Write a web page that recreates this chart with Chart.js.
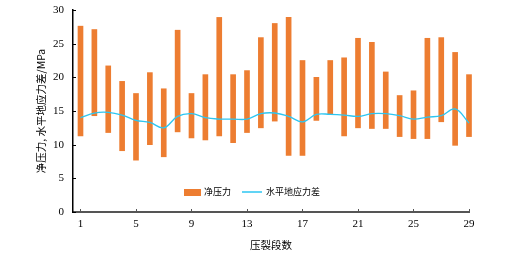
<!DOCTYPE html>
<html>
<head>
<meta charset="utf-8">
<script src="https://cdn.jsdelivr.net/npm/chart.js@4/dist/chart.umd.min.js"></script>
<style>
  html, body { margin: 0; padding: 0; background: #fff; }
  #wrap { width: 517px; height: 264px; }
</style>
</head>
<body>
<div id="wrap"><canvas id="fracChart"></canvas></div>
<script>
// stage numbers
const stages = [1, 2, 3, 4, 5, 6, 7, 8, 9, 10, 11, 12, 13, 14, 15, 16, 17, 18, 19, 20, 21, 22, 23, 24, 25, 26, 27, 28, 29];
// net pressure range (low / high), MPa
const netLow  = [11.3, 14.3, 11.8, 9.1, 7.7, 10.0, 8.2, 11.9, 11.0, 10.7, 11.3, 10.3, 11.8, 12.5, 13.5, 8.4, 8.4, 13.6, 14.5, 11.3, 12.5, 12.4, 12.4, 11.2, 10.9, 10.9, 13.4, 9.9, 11.2];
const netHigh = [27.6, 27.1, 21.7, 19.4, 17.6, 20.7, 18.3, 27.0, 17.6, 20.4, 28.9, 20.4, 21.0, 25.9, 28.0, 28.9, 22.5, 20.0, 22.5, 22.9, 25.8, 25.2, 20.8, 17.3, 18.0, 25.8, 25.9, 23.7, 20.4];
// horizontal stress difference, MPa
const stressDiff = [14.0, 14.7, 14.8, 14.4, 13.6, 13.3, 12.5, 14.2, 14.6, 14.0, 13.8, 13.8, 13.8, 14.6, 14.7, 14.2, 13.4, 14.5, 14.5, 14.4, 14.2, 14.6, 14.6, 14.3, 13.8, 14.1, 14.3, 15.3, 13.2];
const xTickValues = [1, 5, 9, 13, 17, 21, 25, 29];
const yTickValues = [0, 5, 10, 15, 20, 25, 30];

const orange = "#ed7d31";
const cyan = "#2cc6f2";
const serif = "'Liberation Serif', 'DejaVu Serif', serif";
const cjk = "'Noto Sans CJK SC', sans-serif";

// legend drawn inside the plot, plus small inward tick marks
const innerBits = {
  id: "innerBits",
  afterDraw(chart) {
    const c = chart.ctx;
    const area = chart.chartArea;
    const xs = chart.scales.x, ys = chart.scales.y;
    c.save();
    c.strokeStyle = "#555";
    c.lineWidth = 1;
    xTickValues.forEach(v => {
      const px = Math.round(xs.getPixelForValue(v)) + 0.5;
      c.beginPath(); c.moveTo(px, area.bottom); c.lineTo(px, area.bottom - 3); c.stroke();
    });
    c.strokeStyle = "#000";
    yTickValues.forEach(v => {
      const py = Math.round(ys.getPixelForValue(v)) + 0.5;
      c.beginPath(); c.moveTo(area.left, py); c.lineTo(area.left + 3, py); c.stroke();
    });

    // legend
    const ly = area.bottom - 20;
    let lx = area.left + 111;
    c.fillStyle = orange;
    c.fillRect(lx, ly - 3, 17, 7);
    c.fillStyle = "#000";
    c.font = "9px " + cjk;
    c.textBaseline = "middle";
    c.fillText(chart.data.datasets[1].label, lx + 20, ly);
    lx += 58;
    c.strokeStyle = cyan;
    c.lineWidth = 1.5;
    c.beginPath(); c.moveTo(lx, ly); c.lineTo(lx + 20, ly); c.stroke();
    c.fillText(chart.data.datasets[0].label, lx + 24, ly);
    c.restore();
  }
};

const ctx = document.getElementById("fracChart").getContext("2d");
new Chart(ctx, {
  type: "bar",
  data: {
    datasets: [
      {
        type: "line",
        label: "水平地应力差",
        data: stages.map((s, i) => ({ x: s, y: stressDiff[i] })),
        borderColor: cyan,
        borderWidth: 1.3,
        pointRadius: 0,
        tension: 0.4,
        fill: false,
        clip: false,
        order: 0
      },
      {
        type: "bar",
        label: "净压力",
        data: stages.map((s, i) => ({ x: s, y: [netLow[i], netHigh[i]] })),
        backgroundColor: orange,
        barThickness: 5,
        clip: false,
        order: 1
      }
    ]
  },
  options: {
    responsive: true,
    maintainAspectRatio: false,
    animation: false,
    layout: { padding: { left: 31, right: 48, top: 10, bottom: 9 } },
    plugins: {
      legend: { display: false },
      tooltip: { enabled: false }
    },
    scales: {
      x: {
        type: "linear",
        offset: false,
        min: 0.46,
        max: 29,
        afterBuildTicks: scale => { scale.ticks = xTickValues.map(v => ({ value: v })); },
        afterFit: scale => {
          scale.height = 43;
          scale.paddingLeft = 0;
          scale.paddingRight = 0;
        },
        grid: { display: false, drawTicks: false, offset: false },
        border: { display: true, color: "#555", width: 2 },
        ticks: { color: "#000", font: { family: serif, size: 11 }, padding: 6, maxRotation: 0 },
        title: { display: true, text: "压裂段数", color: "#000", font: { family: cjk, size: 10.5 }, padding: { top: 4, bottom: 4 } }
      },
      y: {
        min: 0,
        max: 30,
        afterBuildTicks: scale => { scale.ticks = yTickValues.map(v => ({ value: v })); },
        afterFit: scale => {
          scale.width = 42;
          scale.paddingTop = 0;
          scale.paddingBottom = 0;
        },
        grid: { display: false, drawTicks: false },
        border: { display: true, color: "#000", width: 1.5 },
        ticks: { color: "#000", font: { family: serif, size: 11 }, padding: 9 },
        title: { display: true, text: "净压力, 水平地应力差/MPa", color: "#000", font: { family: cjk, size: 10.5 }, padding: { top: 4, bottom: 4 } }
      }
    }
  },
  plugins: [innerBits]
});
</script>
</body>
</html>
